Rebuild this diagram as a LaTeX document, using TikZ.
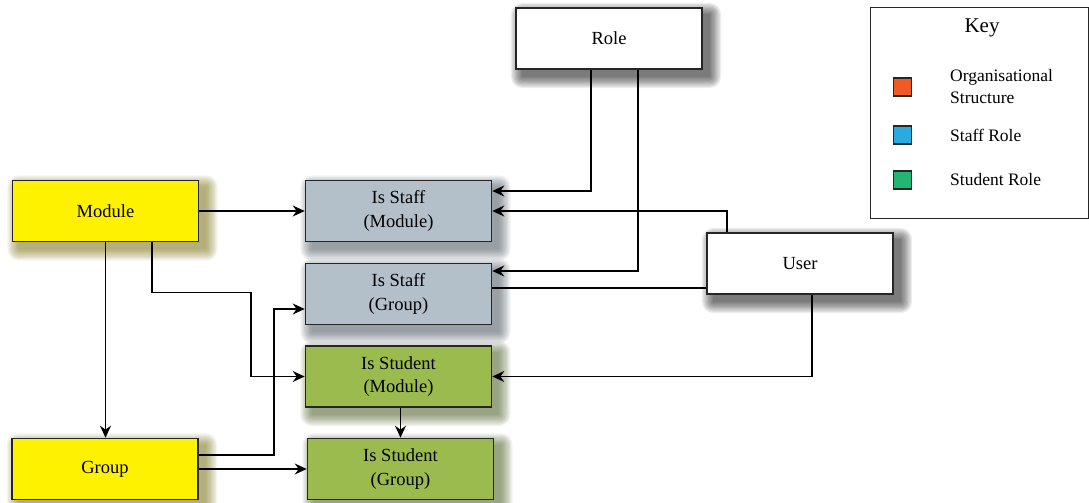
\documentclass[tikz,border=0pt]{standalone}
\usepackage{fontspec}
\setmainfont{Liberation Serif}
\usetikzlibrary{arrows.meta,backgrounds}

\definecolor{orgyellow}{RGB}{255,242,0}
\definecolor{staffgrey}{RGB}{179,192,202}
\definecolor{studgreen}{RGB}{155,187,79}
\definecolor{keyorange}{RGB}{241,90,36}
\definecolor{keyblue}{RGB}{41,171,226}
\definecolor{keygreen}{RGB}{34,181,115}
\definecolor{shyellow}{RGB}{110,100,0}
\definecolor{shgrey}{RGB}{60,70,80}
\definecolor{shgreen}{RGB}{60,80,20}

\tikzset{
  box/.style={draw=black!85, line width=1.6pt, minimum width=186pt, minimum height=61pt,
    align=center, inner sep=0pt, font=\fontsize{18.5}{23.5}\selectfont},
  orgbox/.style={box, fill=orgyellow},
  staffbox/.style={box, fill=staffgrey},
  studbox/.style={box, fill=studgreen},
  plainbox/.style={box, fill=white},
  conn/.style={line width=1.4pt, -{Stealth[length=12pt,width=11pt,inset=4pt]}},
  plainline/.style={line width=1.4pt},
  keysq/.style={draw=black!85, line width=1.2pt, minimum size=18pt, inner sep=0pt},
  keytext/.style={anchor=west, align=left, inner sep=0pt, font=\fontsize{17.5}{22}\selectfont}
}

% soft drop shadow behind a node: stacked translucent rectangles
\newcommand\softshade[2]{%
  \foreach \e in {0,1.25,...,11.25}{%
    \fill[#2, opacity=0.07, rounded corners=\e pt]
      ([shift={(7pt-\e pt,-7pt-\e pt)}]#1.south west) rectangle
      ([shift={(7pt+\e pt,-7pt+\e pt)}]#1.north east);
  }%
}

\begin{document}
\begin{tikzpicture}[x=1pt,y=-1pt]
  \useasboundingbox (0,0) rectangle (1089,503);

  % organisational structure
  \node[orgbox] (module) at (105.5,211) {Module};
  \node[orgbox] (group) at (105,469) {Group};

  % role and user
  \node[plainbox] (role) at (609,38.5) {Role};
  \node[plainbox] (user) at (800,263.5) {User};

  % staff and student roles
  \node[staffbox] (staffmod) at (398.5,211) {Is Staff\\(Module)};
  \node[staffbox] (staffgrp) at (398.5,294) {Is Staff\\(Group)};
  \node[studbox] (studmod) at (398.5,376.5) {Is Student\\(Module)};
  \node[studbox] (studgrp) at (400.5,469) {Is Student\\(Group)};

  % key
  \node[draw=black!85, line width=1.4pt, minimum width=218pt, minimum height=211pt, inner sep=0pt]
    (keybox) at (979.5,113) {};
  \node[font=\fontsize{21}{24}\selectfont] (keytitle) at (982,28) {Key};
  \node[keysq, fill=keyorange] (sqorg) at (902.5,87) {};
  \node[keysq, fill=keyblue] (sqstaff) at (902.5,135) {};
  \node[keysq, fill=keygreen] (sqstud) at (902.5,180) {};
  \node[keytext] (txorg) at (950,87) {Organisational\\Structure};
  \node[keytext] (txstaff) at (950,135) {Staff Role};
  \node[keytext] (txstud) at (950,180) {Student Role};

  % shadows
  \begin{pgfonlayer}{background}
    \softshade{module}{shyellow}
    \softshade{group}{shyellow}
    \softshade{role}{black}
    \softshade{user}{black}
    \softshade{staffmod}{shgrey}
    \softshade{staffgrp}{shgrey}
    \softshade{studmod}{shgreen}
    \softshade{studgrp}{shgreen}
  \end{pgfonlayer}

  % connectors
  \draw[conn] (module.east) -- (staffmod.west);
  \draw[conn] (module.south) -- (group.north -| module.south);
  \draw[conn] ([xshift=46.5pt]module.south) -- ++(0,50) -- ++(99,0) |- (studmod.west);
  \draw[conn] ([yshift=14pt]group.east) -- ++(75,0) |- ([yshift=-15pt]staffgrp.west);
  \draw[conn] (group.east) -- (studgrp.west);
  \draw[conn] (studgrp.north |- studmod.south) -- (studgrp.north);

  \draw[conn] ([xshift=-18pt]role.south) |- ([yshift=20pt]staffmod.east);
  \draw[conn] ([xshift=29pt]role.south) |- ([yshift=23pt]staffgrp.east);

  \draw[conn] ([xshift=-73pt]user.north) |- (staffmod.east);
  \coordinate (userleft) at ([yshift=-24.5pt]user.west);
  \draw[plainline] (userleft) -- (userleft -| staffgrp.east);
  \draw[conn] ([xshift=12pt]user.south) |- (studmod.east);
\end{tikzpicture}
\end{document}
